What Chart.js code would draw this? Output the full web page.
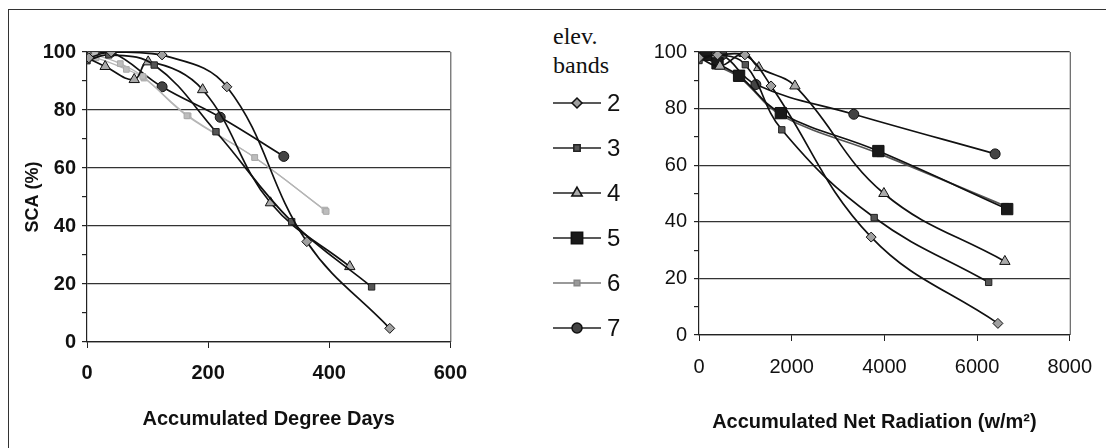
<!DOCTYPE html>
<html>
<head>
<meta charset="utf-8">
<title>SCA vs degree days and net radiation</title>
<script src="https://cdn.jsdelivr.net/npm/chart.js"></script>
<style>
  body { margin: 0; background: #fff; width: 1106px; height: 448px; overflow: hidden; position: relative; }
  .frame { position: absolute; left: 8px; top: 9px; width: 1200px; height: 500px;
           border-left: 1.5px solid #333; border-top: 1.5px solid #333; }
  canvas { position: absolute; }
  #legend { position: absolute; left: 551px; top: 22px; font-family: "Liberation Sans", Arial, sans-serif; }
  #legend .head { font-family: "Liberation Serif", "Times New Roman", serif; font-size: 24px; line-height: 29px; color: #111; margin-left: 2px; }
  #legend .row { display: flex; align-items: center; height: 45px; }
  #legend .row span { font-size: 24px; color: #111; margin-left: 4px; }
</style>
</head>
<body>
<div class="frame"></div>
<canvas id="ddChart" style="left:0;top:0;width:480px;height:448px"></canvas>
<canvas id="radChart" style="left:620px;top:0;width:486px;height:448px"></canvas>
<div id="legend"><div class="head">elev.<br>bands</div></div>

<script>
// elevation bands
const bands = ['2', '3', '4', '5', '6', '7'];

// SCA (%) against accumulated degree days
const ddX = {
  '2': [3, 40, 124, 231, 363, 500],
  '3': [0, 36, 111, 213, 338, 470],
  '4': [0, 30, 78, 101, 191, 303, 434],
  '5': [0, 13, 55, 92, 165, 277, 395],
  '6': [0, 15, 65, 94, 167, 277, 393],
  '7': [0, 40, 124, 220, 325]
};
const ddY = {
  '2': [98, 100, 99, 88, 34.6, 4.7],
  '3': [97, 99, 95.5, 72.5, 41.5, 19],
  '4': [98, 95, 90.5, 96.6, 87, 48, 26],
  '5': [99, 99, 96, 91.6, 78, 63.6, 45],
  '6': [98, 98, 94, 91, 78, 63.6, 45.5],
  '7': [99, 100, 88, 77.5, 64]
};

// SCA (%) against accumulated net radiation
const radX = {
  '2': [0, 400, 990, 1555, 3715, 6450],
  '3': [0, 400, 1000, 1787, 3780, 6250],
  '4': [0, 450, 971, 1290, 2070, 3990, 6600],
  '5': [0, 150, 400, 865, 1766, 3870, 6650],
  '6': [0, 150, 420, 880, 1790, 3900, 6620],
  '7': [0, 500, 1227, 3340, 6390]
};
const radY = {
  '2': [98, 99, 99, 88, 34.6, 4.1],
  '3': [97, 99, 95.5, 72.5, 41.5, 18.6],
  '4': [98, 95, 99.5, 94.5, 88, 50, 26],
  '5': [99, 99, 96, 91.6, 78.4, 65, 44.5],
  '6': [98, 98, 95, 91, 77.5, 64, 45.5],
  '7': [100, 99, 88.5, 78, 64]
};

const ddTicks = [0, 200, 400, 600];
const radTicks = [0, 2000, 4000, 6000, 8000];

// marker look per band
const markers = {
  '2': { style: 'rectRot', r: 5, fill: '#a0a0a0', edge: '#111', line: '#111' },
  '3': { style: 'rect', r: 4.5, fill: '#555', edge: '#222', line: '#111' },
  '4': { style: 'triangle', r: 6, fill: '#aaa', edge: '#111', line: '#111' },
  '5': { style: 'rect', r: 8, fill: '#1a1a1a', edge: '#111', line: '#111' },
  '6': { style: 'rect', r: 4, fill: '#999', edge: '#888', line: '#555' },
  '7': { style: 'circle', r: 5, fill: '#444', edge: '#111', line: '#111' }
};

const SANS = '"Liberation Sans", Arial, sans-serif';
const INK = '#222';

// right edge of the plot area (Excel style frame)
const areaBox = {
  id: 'areaBox',
  afterDraw(chart) {
    const { ctx, chartArea: a } = chart;
    ctx.save();
    ctx.strokeStyle = '#444';
    ctx.lineWidth = 1;
    ctx.beginPath();
    ctx.moveTo(a.right + 0.5, a.top);
    ctx.lineTo(a.right + 0.5, a.bottom);
    ctx.stroke();
    ctx.restore();
  }
};

function makeSets(xs, ys, greyBands) {
  return bands.map(b => {
    const m = markers[b];
    const grey = greyBands.includes(b);
    return {
      label: b,
      data: xs[b].map((x, i) => ({ x: x, y: ys[b][i] })),
      borderColor: grey ? '#b5b5b5' : m.line,
      borderWidth: grey ? 1.3 : 1.7,
      tension: 0.4,
      pointStyle: m.style,
      pointRadius: grey ? Math.min(m.r, 4) : m.r,
      pointBackgroundColor: grey ? '#bdbdbd' : m.fill,
      pointBorderColor: grey ? '#aaa' : m.edge,
      pointBorderWidth: 1
    };
  });
}

function makeChart(id, sets, opt) {
  return new Chart(document.getElementById(id), {
    type: 'line',
    data: { datasets: sets },
    plugins: [areaBox],
    options: {
      responsive: false,
      animation: false,
      layout: { padding: { left: 0, top: 52, right: opt.padRight, bottom: 0 } },
      plugins: { legend: { display: false }, tooltip: { enabled: false } },
      scales: {
        x: {
          type: 'linear',
          min: opt.ticks[0],
          max: opt.ticks[opt.ticks.length - 1],
          afterBuildTicks: s => { s.ticks = opt.ticks.map(v => ({ value: v })); },
          afterFit: s => { s.height = opt.xHeight; },
          grid: { drawOnChartArea: false, color: INK, tickLength: 6 },
          border: { color: INK, width: 1.2 },
          ticks: {
            color: '#111',
            padding: opt.xPad,
            maxRotation: 0,
            callback: v => String(v),
            font: { family: SANS, size: 20, weight: opt.tickWeight }
          },
          title: {
            display: true,
            text: opt.xTitle,
            align: 'center',
            color: '#111',
            padding: { top: 0, bottom: opt.xTitlePad },
            font: { family: SANS, size: 20, weight: 'bold' }
          }
        },
        y: {
          min: 0,
          max: 100,
          afterFit: s => { s.width = opt.yWidth; },
          ticks: {
            stepSize: 10,
            color: '#111',
            padding: opt.yPad,
            callback: v => (v % 20 === 0 ? String(v) : ''),
            font: { family: SANS, size: 20, weight: opt.tickWeight }
          },
          grid: {
            color: c => (c.tick && c.tick.value % 20 === 0 ? '#333' : 'rgba(0,0,0,0)'),
            tickColor: INK,
            tickLength: 5,
            lineWidth: 1.2
          },
          border: { color: INK, width: 1.2 },
          title: {
            display: opt.yTitle !== '',
            text: opt.yTitle,
            color: '#111',
            padding: { top: 22, bottom: 0 },
            font: { family: SANS, size: 18, weight: 'bold' }
          }
        }
      }
    }
  });
}

const ddCanvas = document.getElementById('ddChart');
ddCanvas.width = 480; ddCanvas.height = 448;
const radCanvas = document.getElementById('radChart');
radCanvas.width = 486; radCanvas.height = 448;

makeChart('ddChart', makeSets(ddX, ddY, ['5', '6']), {
  ticks: ddTicks, padRight: 19, xHeight: 106, yWidth: 87, xPad: 13, xTitlePad: 17, yPad: 6,
  tickWeight: 'bold', xTitle: 'Accumulated Degree Days', yTitle: 'SCA (%)'
});

makeChart('radChart', makeSets(radX, radY, []), {
  ticks: radTicks, padRight: 32, xHeight: 113, yWidth: 79, xPad: 14, xTitlePad: 14, yPad: 7,
  tickWeight: 'normal', xTitle: 'Accumulated Net Radiation (w/m\u00b2)\u2003', yTitle: ''
});

// legend: line with marker, then band number
const legend = document.getElementById('legend');
bands.forEach(b => {
  const m = markers[b];
  const row = document.createElement('div');
  row.className = 'row';
  const c = document.createElement('canvas');
  c.width = 52; c.height = 22;
  c.style.position = 'static';
  const g = c.getContext('2d');
  g.strokeStyle = b === '6' ? '#777' : '#222';
  g.lineWidth = 1.5;
  g.beginPath(); g.moveTo(2, 11); g.lineTo(50, 11); g.stroke();
  g.fillStyle = m.fill; g.strokeStyle = m.edge;
  Chart.helpers.drawPoint(g, { pointStyle: m.style, radius: m.r, borderWidth: 1 }, 26, 11);
  const span = document.createElement('span');
  span.textContent = b;
  row.appendChild(c);
  row.appendChild(span);
  legend.appendChild(row);
});
</script>
</body>
</html>
